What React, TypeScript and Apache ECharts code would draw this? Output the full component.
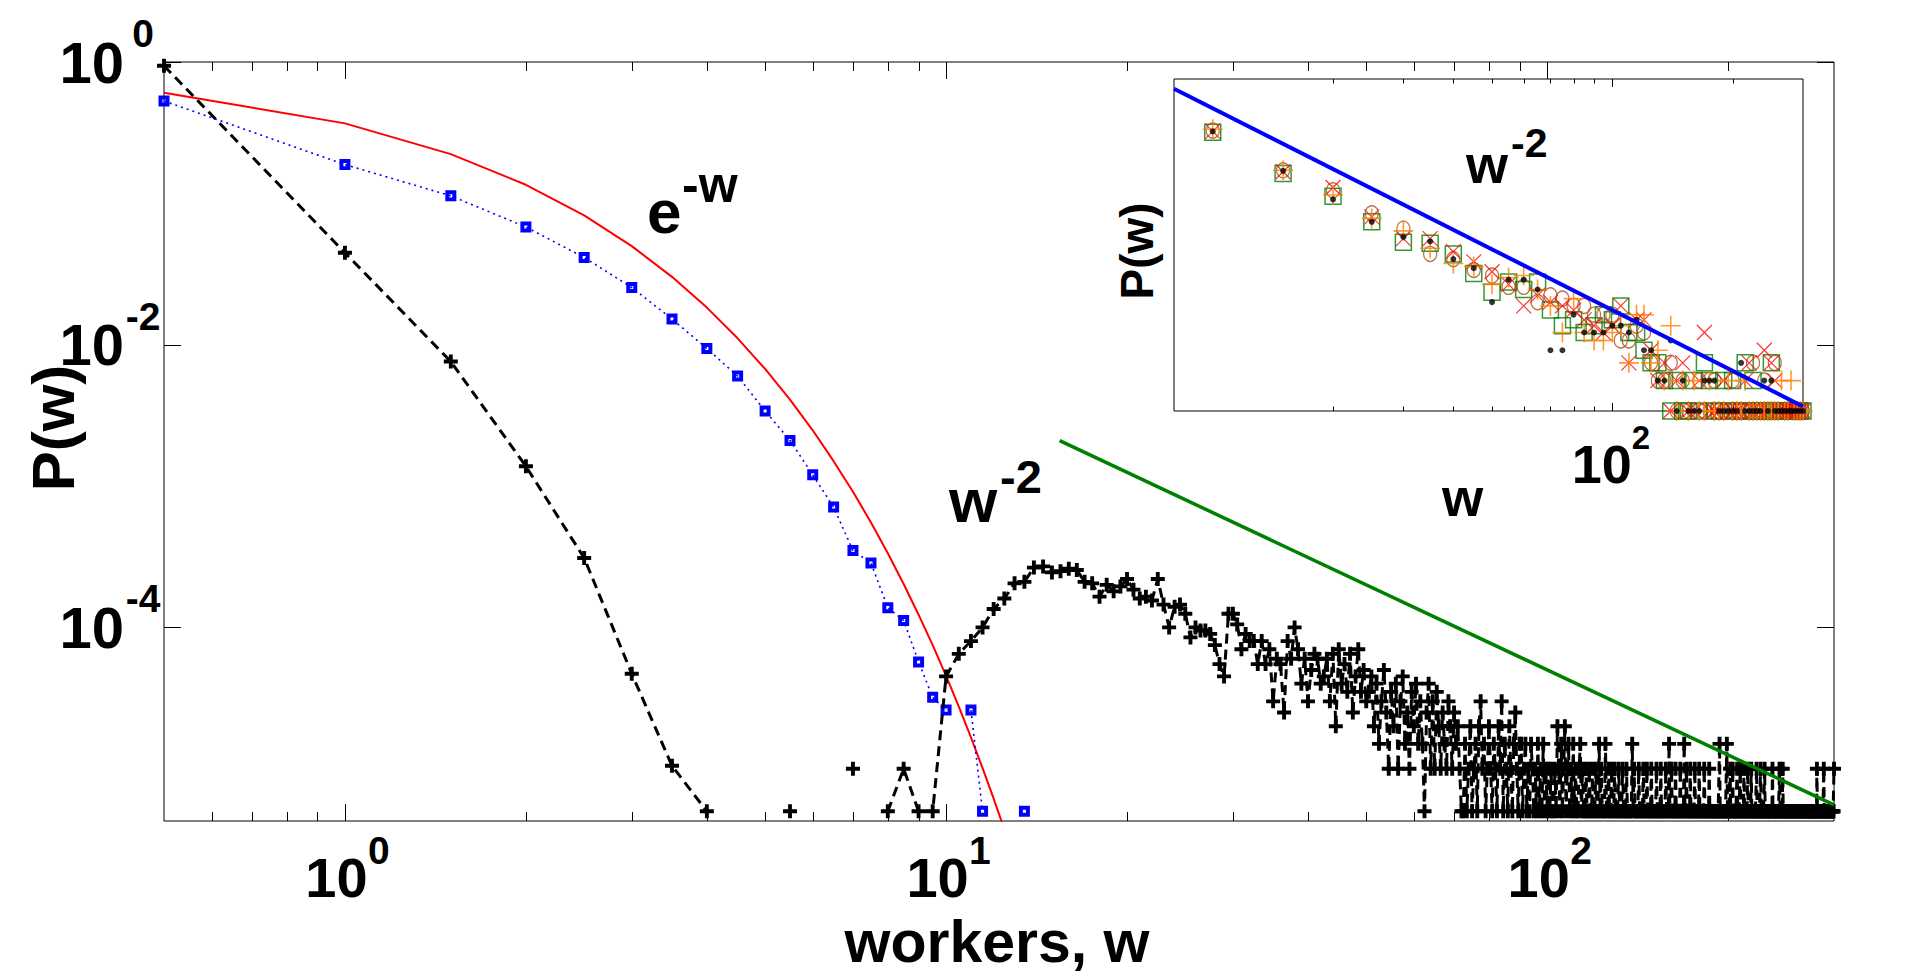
import React, { useEffect, useRef } from "react";
import * as echarts from "echarts";

const FONT = '"Liberation Sans", Arial, Helvetica, sans-serif';

// ---------------- Main plot data ----------------
// black dashed "+" series, head part (probabilities)
const blackHeadW = [0.5, 1, 1.5, 2, 2.5, 3, 3.5, 4, 4.5, 5, 5.5, 6, 6.5, 7, 7.5, 8, 8.5, 9, 9.5];
const blackHeadP = [0.94, 0.0447, 0.0076, 0.00138, 3.1e-4, 4.7e-5, 1.05e-5, 5e-6, 0, 0, 5e-6, 0, 0, 1e-5, 0, 5e-6, 1e-5, 5e-6, 5e-6];

// black dashed "+" series, tail part: counts (unit = COUNT_UNIT) for w = 10, 10.5, ..., 300
const TAIL_START = 10;
const TAIL_STEP = 0.5;
const COUNT_UNIT = 5e-6;
const blackTailCounts = [
  // 10 … 20
  9, 13, 16, 20, 27, 32, 41, 42, 53, 54, 49, 50, 52, 51, 42, 41, 33, 40, 36, 39, 44,
  // 20.5 … 30
  37, 32, 33, 31, 44, 29, 20, 28, 29, 25, 17, 20, 19, 19, 18, 15, 11, 9, 25, 25,
  // 30.5 … 40
  21, 14, 18, 16, 16, 11, 16, 11, 14, 6, 12, 11, 5, 16, 12, 20, 14, 8, 12, 6,
  // 40.5 … 50
  10, 13, 12, 8, 9, 12, 6, 13, 4, 14, 8, 11, 7, 13, 5, 9, 14, 7, 10, 6,
  // 50.5 … 60
  7, 9, 4, 8, 3, 6, 10, 5, 2, 7, 4, 8, 2, 6, 9, 3, 5, 2, 7, 4,
  // 60.5 … 70
  8, 3, 6, 3, 1, 5, 8, 2, 6, 2, 7, 4, 2, 5, 3, 2, 6, 4, 2, 5,
  // 70.5 … 80
  3, 4, 2, 1, 1, 3, 1, 2, 4, 1, 2, 3, 1, 4, 6, 2, 3, 1, 2, 4,
  // 80.5 … 90
  2, 1, 3, 2, 1, 4, 2, 6, 1, 3, 2, 1, 4, 2, 1, 3, 5, 2, 1, 3,
  // 90.5 … 100
  3, 1, 2, 3, 1, 2, 1, 3, 2, 1, 2, 1, 3, 1, 2, 1, 3, 1, 2, 1,
  // 100.5 … 110
  2, 1, 2, 1, 1, 2, 1, 4, 2, 1, 3, 1, 2, 4, 1, 2, 3, 1, 2, 1,
  // 110.5 … 120
  3, 1, 2, 1, 1, 2, 3, 1, 2, 1, 1, 2, 1, 1, 2, 1, 1, 2, 1, 1,
  // 120.5 … 130
  2, 1, 1, 3, 1, 2, 1, 1, 1, 3, 1, 1, 2, 1, 1, 2, 1, 1, 2, 1,
  // 130.5 … 150
  1, 1, 2, 1, 1, 1, 2, 1, 1, 1, 2, 1, 1, 1, 1, 1, 3, 1, 2, 1,
  1, 1, 1, 2, 1, 1, 1, 1, 2, 1, 1, 1, 2, 1, 1, 1, 1, 2, 1, 1,
  // 150.5 … 200
  1, 1, 1, 2, 1, 1, 1, 1, 2, 1, 1, 1, 1, 1, 2, 1, 1, 1, 3, 1,
  1, 2, 1, 1, 1, 1, 2, 1, 1, 1, 1, 1, 2, 1, 1, 1, 1, 3, 1, 1,
  2, 1, 1, 1, 1, 2, 1, 1, 1, 1, 1, 2, 1, 1, 1, 1, 1, 2, 1, 1,
  1, 1, 1, 1, 2, 1, 1, 1, 1, 1, 1, 2, 1, 1, 1, 1, 1, 1, 1, 1,
  1, 1, 1, 1, 1, 1, 3, 1, 1, 1, 1, 1, 1, 1, 1, 1, 1, 3, 1, 1,
  // 200.5 … 250
  1, 1, 2, 1, 1, 1, 2, 1, 1, 1, 1, 1, 1, 2, 1, 1, 1, 1, 2, 1,
  1, 1, 1, 1, 2, 1, 1, 1, 1, 1, 2, 1, 1, 1, 1, 1, 2, 1, 1, 1,
  1, 1, 1, 1, 1, 2, 1, 1, 1, 1, 1, 1, 2, 1, 1, 1, 1, 1, 1, 2,
  1, 1, 1, 1, 1, 1, 1, 1, 1, 1, 1, 1, 1, 2, 1, 1, 1, 1, 1, 1,
  1, 1, 1, 1, 1, 1, 2, 1, 1, 1, 1, 1, 2, 1, 1, 1, 1, 1, 1, 1,
  // 250.5 … 300
  1, 1, 1, 0, 1, 1, 1, 1, 1, 1, 1, 1, 1, 1, 1, 0, 1, 1, 1, 1,
  1, 1, 1, 1, 1, 1, 1, 0, 1, 1, 1, 1, 1, 1, 1, 1, 1, 1, 1, 1,
  1, 0, 1, 1, 1, 1, 1, 1, 1, 1, 1, 1, 1, 1, 1, 1, 1, 1, 1, 1,
  1, 2, 1, 1, 1, 1, 1, 1, 1, 1, 1, 1, 1, 1, 1, 1, 2, 1, 1, 1,
  1, 1, 1, 1, 0, 1, 1, 1, 1, 1, 1, 1, 1, 1, 1, 1, 1, 1, 1, 2,
];

// blue dotted squares
const blueW = [0.5, 1, 1.5, 2, 2.5, 3, 3.5, 4, 4.5, 5, 5.5, 6, 6.5, 7, 7.5, 8, 8.5, 9, 9.5, 10, 10.5, 11, 11.5, 12, 12.5, 13, 13.5];
const blueP = [0.53, 0.188, 0.113, 0.068, 0.0414, 0.0254, 0.0152, 0.0094, 0.006, 0.0034, 0.0021, 0.0012, 7.1e-4, 3.5e-4, 2.85e-4, 1.38e-4, 1.12e-4, 5.7e-5, 3.2e-5, 2.6e-5, 0, 2.6e-5, 5e-6, 0, 0, 0, 5e-6];

// red e^-w curve
const redW = [0.5, 1, 1.5, 2, 2.5, 3, 3.5, 4, 4.5, 5, 5.5, 6, 6.5, 7, 7.5, 8, 8.5, 9, 9.5, 10, 10.5, 11, 11.5, 12, 12.5, 13];
const redP = [0.6065, 0.3679, 0.2231, 0.1353, 0.0821, 0.0498, 0.0302, 0.0183, 0.0111, 0.00674, 0.00409, 0.00248, 0.0015, 9.12e-4, 5.53e-4, 3.35e-4, 2.03e-4, 1.23e-4, 7.49e-5, 4.54e-5, 2.75e-5, 1.67e-5, 1.01e-5, 6.14e-6, 3.73e-6, 2.26e-6];

// green w^-2 guide line
const greenW = [15.45, 300];
const greenP = [2.095e-3, 5.56e-6];

// ---------------- Inset data (counts) for w = 10, 15, ..., 300 ----------------
const INSET_START = 10;
const INSET_STEP = 5;
const insetSquares = [580, 226, 134, 75, 47, 46, 36, 23, 15, 19, 16, 19, 10, 7, 8, 6, 7, 9, 8, 11, 6, 6, 4, 3, 3, 2, 1, 2, 1,
  1, 2, 1, 3, 2, 1, 1, 2, 1, 2, 1, 1, 3, 1, 2, 1, 1, 1, 1, 3, 1, 1, 1, 1, 1, 1, 1, 1, 1, 1];
const insetCircles = [600, 243, 154, 91, 64, 36, 32, 25, 22, 17, 17, 12, 14, 13, 11, 11, 9, 9, 9, 5, 5, 7, 6, 3, 2, 2, 3, 1, 2,
  1, 1, 2, 1, 1, 2, 1, 1, 1, 2, 1, 1, 1, 1, 3, 1, 1, 2, 1, 1, 3, 1, 1, 1, 1, 1, 1, 1, 1, 1];
const insetCrosses = [590, 235, 164, 84, 51, 51, 38, 30, 24, 18, 11, 14, 12, 11, 10, 8, 7, 6, 7, 11, 3, 8, 8, 4, 2, 3, 1, 2, 3,
  1, 1, 2, 6, 1, 1, 1, 2, 1, 1, 1, 1, 2, 3, 1, 1, 1, 4, 1, 3, 2, 1, 1, 1, 1, 1, 1, 1, 1, 1];
const insetPluses = [620, 243, 138, 81, 61, 41, 29, 27, 18, 21, 22, 16, 11, 6, 13, 6, 5, 5, 6, 7, 3, 9, 9, 3, 4, 2, 7, 1, 2,
  1, 2, 1, 1, 2, 1, 1, 1, 2, 1, 1, 1, 2, 1, 1, 1, 1, 1, 1, 1, 1, 1, 2, 1, 1, 2, 1, 1, 1, 1];
const insetDots = [590, 240, 125, 75, 53, 48, 32, 26, 12, 20, 20, 16, 4, 4, 9, 6, 6, 6, 7, 7, 6, 8, 4, 4, 2, 2, 5, 1, 2,
  1, 1, 1, 2, 2, 2, 1, 1, 1, 1, 1, 3, 1, 1, 1, 1, 1, 2, 1, 2, 1, 1, 1, 1, 1, 1, 1, 1, 1, 1];
const insetLineW = [8, 300];
const insetLineC = [1562.5, 1.11];

// ---------------- Axis extents and ticks (raw values) ----------------
const mainX = [0.5, 300];
const mainY = [4.27e-6, 1];
const mainMajorX = [1, 10, 100];
const mainMinorX = [0.6, 0.7, 0.8, 0.9, 2, 3, 4, 5, 6, 7, 8, 9, 20, 30, 40, 50, 60, 70, 80, 90, 200];
const mainMajorY = [1, 1e-2, 1e-4];
const insetX = [8, 300];
const insetY = [1, 1950];
const insetMajorX = [100];
const insetMinorX = [20, 30, 40, 50, 60, 70, 80, 90, 200];

const lg = (v: number) => Math.log10(v);
const pt = (w: number, p: number) => [lg(w), p > 0 ? lg(p) : null];

const PLUS_BOLD =
  "path://M-1.8,-6.5L1.8,-6.5L1.8,-1.8L6.5,-1.8L6.5,1.8L1.8,1.8L1.8,6.5L-1.8,6.5L-1.8,1.8L-6.5,1.8L-6.5,-1.8L-1.8,-1.8Z";
const SQUARE_RING = "path://M0,0L10,0L10,10L0,10Z M3.6,3.6L3.6,6.4L6.4,6.4L6.4,3.6Z";
const THIN_X = "path://M0,0L10,10M10,0L0,10";
const THIN_PLUS = "path://M5,0L5,10M0,5L10,5";

// central-baseline offset of Arial-metric fonts (fraction of the font size)
const CENTRAL = 0.3465;

function txt(
  text: string, x: number, y: number, size: number,
  align = "left", rotation = 0, lineHeight?: number
) {
  return {
    type: "text",
    x,
    y,
    rotation,
    z: 100,
    silent: true,
    style: {
      text,
      font: `bold ${size}px ${FONT}`,
      fill: "#000",
      align,
      verticalAlign: "middle",
      ...(lineHeight ? { lineHeight } : {}),
    },
  };
}

// custom series that draws inward log ticks on all four sides of a grid
function tickSeries(
  axisIdx: number,
  xExt: number[],
  yExt: number[],
  xMajor: number[],
  xMinor: number[],
  yMajor: number[],
  majorLen: number,
  minorLen: number
) {
  const data = [
    ...xMajor.map((v) => [lg(v), 0, majorLen]),
    ...xMinor.map((v) => [lg(v), 0, minorLen]),
    ...yMajor.map((v) => [lg(v), 1, majorLen]),
  ];
  const xMid = (lg(xExt[0]) + lg(xExt[1])) / 2;
  const yMid = (lg(yExt[0]) + lg(yExt[1])) / 2;
  return {
    type: "custom",
    xAxisIndex: axisIdx,
    yAxisIndex: axisIdx,
    silent: true,
    clip: false,
    z: 30,
    data,
    renderItem: (params: any, api: any) => {
      const cs = params.coordSys;
      const v = api.value(0);
      const kind = api.value(1);
      const len = api.value(2);
      const style = { stroke: "#000", lineWidth: 1, fill: null };
      if (kind === 0) {
        const px = Math.round(api.coord([v, yMid])[0]) + 0.5;
        const bottom = cs.y + cs.height;
        return {
          type: "group",
          children: [
            { type: "line", shape: { x1: px, y1: bottom, x2: px, y2: bottom - len }, style },
            { type: "line", shape: { x1: px, y1: cs.y, x2: px, y2: cs.y + len }, style },
          ],
        };
      }
      const py = Math.round(api.coord([xMid, v])[1]) + 0.5;
      const right = cs.x + cs.width;
      return {
        type: "group",
        children: [
          { type: "line", shape: { x1: cs.x, y1: py, x2: cs.x + len, y2: py }, style },
          { type: "line", shape: { x1: right, y1: py, x2: right - len, y2: py }, style },
        ],
      };
    },
  };
}

const staticGraphics = [
  txt("P(w)", 53, 428, 60, "center", Math.PI / 2, 48),
  txt("workers, w", 997, 962.5 - CENTRAL * 59, 59, "center", 0, 46),
  txt("e", 647, 211, 62),
  txt("-w", 682, 185, 50),
  txt("w", 949, 500, 62),
  txt("-2", 1000, 476, 47),
  txt("w", 1466, 164, 54),
  txt("-2", 1511, 143, 41),
  txt("P(w)", 1137, 251, 46, "center", Math.PI / 2, 38),
  txt("w", 1442, 497, 53),
];

function buildOption() {
  const blackData = [
    ...blackHeadW.map((w, i) => pt(w, blackHeadP[i])),
    ...blackTailCounts.map((c, i) => pt(TAIL_START + TAIL_STEP * i, c * COUNT_UNIT)),
  ];
  const blueData = blueW.map((w, i) => pt(w, blueP[i]));
  const redData = redW.map((w, i) => pt(w, redP[i]));
  const greenData = greenW.map((w, i) => pt(w, greenP[i]));
  const insetPts = (arr: number[]) =>
    arr
      .map((c, i) => [lg(INSET_START + INSET_STEP * i), c > 0 ? lg(c) : null])
      .filter((d) => d[1] !== null);
  const insetLine = insetLineW.map((w, i) => [lg(w), lg(insetLineC[i])]);

  const bold = { fontWeight: "bold", fontFamily: FONT, color: "#000" };
  const supFmt = (v: number) => `{b|10}{s|${Math.round(v)}}`;

  const base = (gridIndex: number, position: string, ext: number[]) => ({
    type: "value",
    gridIndex,
    position,
    min: lg(ext[0]),
    max: lg(ext[1]),
    axisLine: { show: false },
    splitLine: { show: false },
    axisLabel: { show: false },
    axisTick: { show: false },
  });

  const xAxis = [base(0, "bottom", mainX), base(1, "bottom", insetX)];
  const yAxis = [
    {
      ...base(0, "left", mainY),
      axisLabel: {
        show: true,
        customValues: mainMajorY.map(lg),
        formatter: supFmt,
        margin: 2,
        rich: {
          b: { ...bold, fontSize: 58, lineHeight: 96 },
          s: { ...bold, fontSize: 39, lineHeight: 39, verticalAlign: "top", width: 38, align: "left" },
        },
      },
    },
    base(1, "left", insetY),
  ];

  return {
    animation: false,
    backgroundColor: "#fff",
    grid: [
      {
        left: 164, top: 62, width: 1670, height: 759,
        show: true, borderColor: "#000", borderWidth: 1, backgroundColor: "transparent",
        containLabel: false, outerBoundsMode: "none",
      },
      {
        left: 1174, top: 79, width: 629, height: 332,
        show: true, borderColor: "#000", borderWidth: 1, backgroundColor: "#fff",
        containLabel: false, outerBoundsMode: "none", z: 3,
      },
    ],
    xAxis,
    yAxis,
    series: [
      {
        type: "line", xAxisIndex: 0, yAxisIndex: 0, data: redData, symbol: "none", silent: true, clip: true,
        lineStyle: { color: "#ff0000", width: 2 }, z: 2,
      },
      {
        type: "line", xAxisIndex: 0, yAxisIndex: 0, data: blueData, silent: true, clip: true,
        symbol: SQUARE_RING, symbolSize: 11,
        itemStyle: { color: "#0000ff", borderWidth: 0 },
        lineStyle: { color: "#0000ff", width: 1.6, type: [2, 4] }, z: 3,
      },
      {
        type: "line", xAxisIndex: 0, yAxisIndex: 0, data: blackData, silent: true, clip: true,
        symbol: PLUS_BOLD, symbolSize: 14,
        itemStyle: { color: "#000", borderWidth: 0 },
        lineStyle: { color: "#000", width: 3, type: [10, 6] }, z: 4,
      },
      {
        type: "line", xAxisIndex: 0, yAxisIndex: 0, data: greenData, symbol: "none", silent: true, clip: true,
        lineStyle: { color: "#008000", width: 3.5 }, z: 5,
      },
      tickSeries(0, mainX, mainY, mainMajorX, mainMinorX, mainMajorY, 17, 9),
      // inset
      {
        type: "scatter", xAxisIndex: 1, yAxisIndex: 1, data: insetPts(insetSquares), silent: true,
        symbol: "rect", symbolSize: 16,
        itemStyle: { color: "transparent", borderColor: "#008000", borderWidth: 1.5 }, z: 6,
      },
      {
        type: "scatter", xAxisIndex: 1, yAxisIndex: 1, data: insetPts(insetCircles), silent: true,
        symbol: "circle", symbolSize: [13, 15],
        itemStyle: { color: "transparent", borderColor: "#a8501c", borderWidth: 1.3 }, z: 7,
      },
      {
        type: "scatter", xAxisIndex: 1, yAxisIndex: 1, data: insetPts(insetCrosses), silent: true,
        symbol: THIN_X, symbolSize: 15,
        itemStyle: { color: "transparent", borderColor: "#ff0000", borderWidth: 1.2 }, z: 8,
      },
      {
        type: "scatter", xAxisIndex: 1, yAxisIndex: 1, data: insetPts(insetPluses), silent: true,
        symbol: THIN_PLUS, symbolSize: 20,
        itemStyle: { color: "transparent", borderColor: "#ff8000", borderWidth: 1.6 }, z: 9,
      },
      {
        type: "scatter", xAxisIndex: 1, yAxisIndex: 1, data: insetPts(insetDots), silent: true,
        symbol: "circle", symbolSize: 6,
        itemStyle: { color: "#000" }, z: 10,
      },
      {
        type: "line", xAxisIndex: 1, yAxisIndex: 1, data: insetLine, symbol: "none", silent: true, clip: true,
        lineStyle: { color: "#0000ff", width: 4 }, z: 11,
      },
      tickSeries(1, insetX, insetY, insetMajorX, insetMinorX, [], 8, 4.5),
    ],
    graphic: staticGraphics,
  };
}

// x tick labels "10^n", placed at the pixel position of each tick through the axis scale
function xTickLabels(chart: any) {
  const out: any[] = [];
  mainMajorX.forEach((v) => {
    const px = chart.convertToPixel({ xAxisIndex: 0 }, lg(v));
    out.push(txt("10", px - 8.5, 897 - CENTRAL * 56, 56, "center"));
    out.push(txt(String(Math.round(lg(v))), px + 23, 864 - CENTRAL * 39, 39, "left"));
  });
  insetMajorX.forEach((v) => {
    const px = chart.convertToPixel({ xAxisIndex: 1 }, lg(v));
    out.push(txt("10", px - 10.5, 483 - CENTRAL * 54, 54, "center"));
    out.push(txt(String(Math.round(lg(v))), px + 19.5, 448.6 - CENTRAL * 33, 33, "left"));
  });
  return out;
}

export default function App() {
  const ref = useRef<HTMLDivElement>(null);
  useEffect(() => {
    if (!ref.current) return;
    const chart = echarts.init(ref.current, null, { renderer: "svg" });
    chart.setOption(buildOption() as any);
    chart.setOption({ graphic: [...staticGraphics, ...xTickLabels(chart)] } as any);
    return () => chart.dispose();
  }, []);
  return (
    <div
      ref={ref}
      style={{ position: "fixed", left: 0, top: 0, width: "1920px", height: "980px", background: "#fff" }}
    />
  );
}
